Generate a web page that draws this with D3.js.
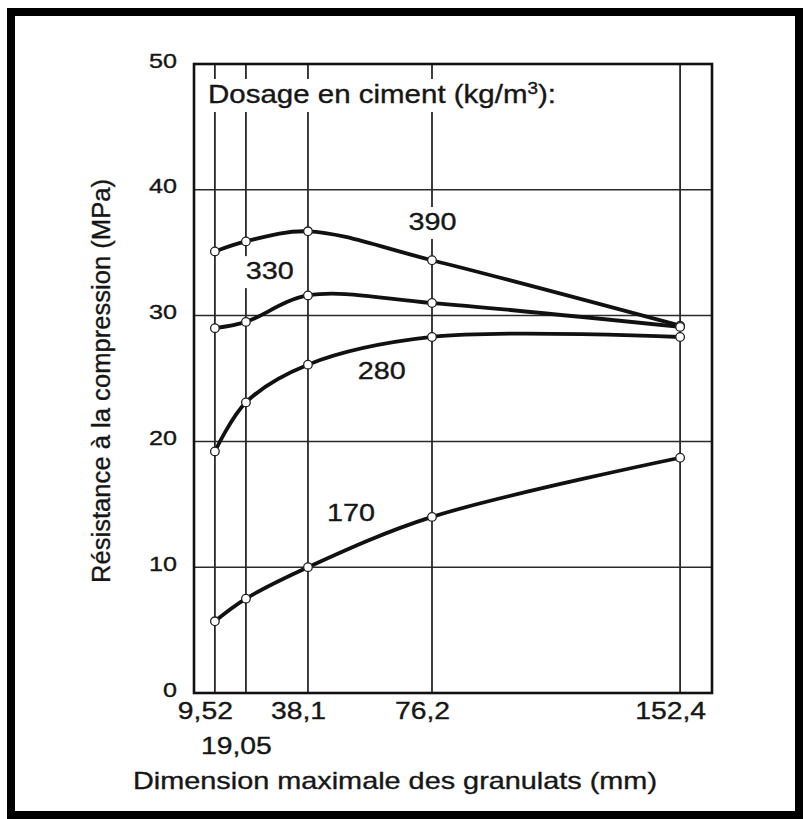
<!DOCTYPE html>
<html>
<head>
<meta charset="utf-8">
<script src="https://cdn.jsdelivr.net/npm/d3@7"></script>
<style>
  html, body { margin: 0; padding: 0; background: #fff; }
  svg { display: block; }
  text { font-family: "Liberation Sans", Arial, Helvetica, sans-serif; fill: #161616; stroke: #161616; stroke-width: 0.35px; }
</style>
</head>
<body>
<svg id="chart" width="804" height="819"></svg>
<script>
// Maximum aggregate size (mm) and compressive strength (MPa) per cement dosage
const sizes = [9.52, 19.05, 38.1, 76.2, 152.4];
const sizeLabels = ["9,52", "19,05", "38,1", "76,2", "152,4"];
const strengthTicks = [0, 10, 20, 30, 40, 50];
const dosageNames = ["390", "330", "280", "170"];
const strength390 = [35.1, 35.9, 36.7, 34.4, 29.2];
const strength330 = [29.0, 29.5, 31.6, 31.0, 29.1];
const strength280 = [19.2, 23.1, 26.1, 28.3, 28.3];
const strength170 = [5.7, 7.5, 10.0, 14.0, 18.7];
const seriesValues = [strength390, strength330, strength280, strength170];

const svg = d3.select("#chart");
const plot = { left: 194, right: 712, top: 64, bottom: 693 };

const x = d3.scaleLinear().domain([3.1, 162.2]).range([plot.left, plot.right]);
const y = d3.scaleLinear().domain([0, 50]).range([plot.bottom, plot.top]);

// page border
svg.append("rect")
  .attr("x", 11).attr("y", 12).attr("width", 788).attr("height", 803)
  .attr("fill", "none").attr("stroke", "#000").attr("stroke-width", 8);

// grid lines
const grid = svg.append("g");
grid.selectAll("line.v").data(sizes).join("line")
  .attr("class", "v")
  .attr("x1", d => x(d)).attr("x2", d => x(d))
  .attr("y1", plot.top).attr("y2", plot.bottom)
  .attr("stroke", "#1c1c1c").attr("stroke-width", 1.7);
grid.selectAll("line.h").data(strengthTicks.filter(v => v > 0 && v < 50)).join("line")
  .attr("class", "h")
  .attr("x1", plot.left).attr("x2", plot.right)
  .attr("y1", d => y(d)).attr("y2", d => y(d))
  .attr("stroke", "#2a2a2a").attr("stroke-width", 1.5);

// plot frame
svg.append("rect")
  .attr("x", plot.left).attr("y", plot.top)
  .attr("width", plot.right - plot.left).attr("height", plot.bottom - plot.top)
  .attr("fill", "none").attr("stroke", "#111").attr("stroke-width", 2.6);

// axes (labels only; the frame and grid are drawn above)
const yAxis = svg.append("g")
  .attr("transform", `translate(${plot.left},0)`)
  .call(d3.axisLeft(y).tickValues(strengthTicks).tickSize(0));
yAxis.select(".domain").remove();
yAxis.selectAll(".tick text")
  .attr("x", null).attr("dy", null).attr("y", null)
  .attr("text-anchor", "end")
  .attr("font-size", 21)
  .attr("fill", "#161616")
  .attr("transform", "translate(-17,3) scale(1.2,1)");

const xAxis = svg.append("g")
  .attr("transform", `translate(0,${plot.bottom})`)
  .call(d3.axisBottom(x).tickValues(sizes).tickFormat((d, i) => sizeLabels[i]).tickSize(0));
xAxis.select(".domain").remove();
xAxis.selectAll(".tick text")
  .attr("x", null).attr("dy", null).attr("y", null)
  .attr("text-anchor", "middle")
  .attr("font-size", 24)
  .attr("fill", "#161616")
  .attr("transform", d => `translate(-10,${d === 19.05 ? 61 : 26}) scale(1.18,1)`);

// text with a white knock-out box behind it
function boxedText(parent, px, py, length, size, build) {
  const g = parent.append("g");
  const bg = g.append("rect").attr("fill", "#fff");
  const t = g.append("text")
    .attr("x", px).attr("y", py)
    .attr("font-size", size)
    .attr("text-anchor", "middle")
    .attr("textLength", length)
    .attr("lengthAdjust", "spacingAndGlyphs");
  build(t);
  const b = t.node().getBBox();
  bg.attr("x", b.x - 6).attr("y", b.y - 1)
    .attr("width", b.width + 12).attr("height", b.height + 5);
  return t;
}

const labels = svg.append("g");
boxedText(labels, 382, 103, 348, 25, t => {
  t.append("tspan").text("Dosage en ciment (kg/m");
  t.append("tspan").attr("font-size", 16).attr("dy", -9).text("3");
  t.append("tspan").attr("dy", 9).text("):");
});

// dosage labels, placed in data space next to their curves
const labelSpots = [[76.35, 36.8], [26.4, 32.9], [60.8, 25.0], [51.3, 13.7]];
dosageNames.forEach((name, i) => {
  boxedText(labels, x(labelSpots[i][0]), y(labelSpots[i][1]), 48, 24, t => t.text(name));
});

// curves
const line = d3.line()
  .x((d, i) => x(sizes[i]))
  .y(d => y(d))
  .curve(d3.curveCatmullRom);

const curves = svg.append("g");
curves.selectAll("path").data(seriesValues).join("path")
  .attr("d", d => line(d))
  .attr("fill", "none")
  .attr("stroke", "#111")
  .attr("stroke-width", 3.8)
  .attr("stroke-linejoin", "round");

// measurement markers
const markers = svg.append("g");
seriesValues.forEach(vals => {
  markers.selectAll(null).data(vals).join("circle")
    .attr("cx", (d, i) => x(sizes[i]))
    .attr("cy", d => y(d))
    .attr("r", 4.3)
    .attr("fill", "#fff")
    .attr("stroke", "#222")
    .attr("stroke-width", 1.3);
});

// axis titles
svg.append("text")
  .attr("x", 395).attr("y", 789)
  .attr("text-anchor", "middle")
  .attr("font-size", 24)
  .attr("textLength", 524)
  .attr("lengthAdjust", "spacingAndGlyphs")
  .text("Dimension maximale des granulats (mm)");

svg.append("text")
  .attr("transform", "translate(110,381) rotate(-90)")
  .attr("text-anchor", "middle")
  .attr("font-size", 25)
  .attr("textLength", 404)
  .attr("lengthAdjust", "spacingAndGlyphs")
  .text("Résistance à la compression (MPa)");
</script>
</body>
</html>
